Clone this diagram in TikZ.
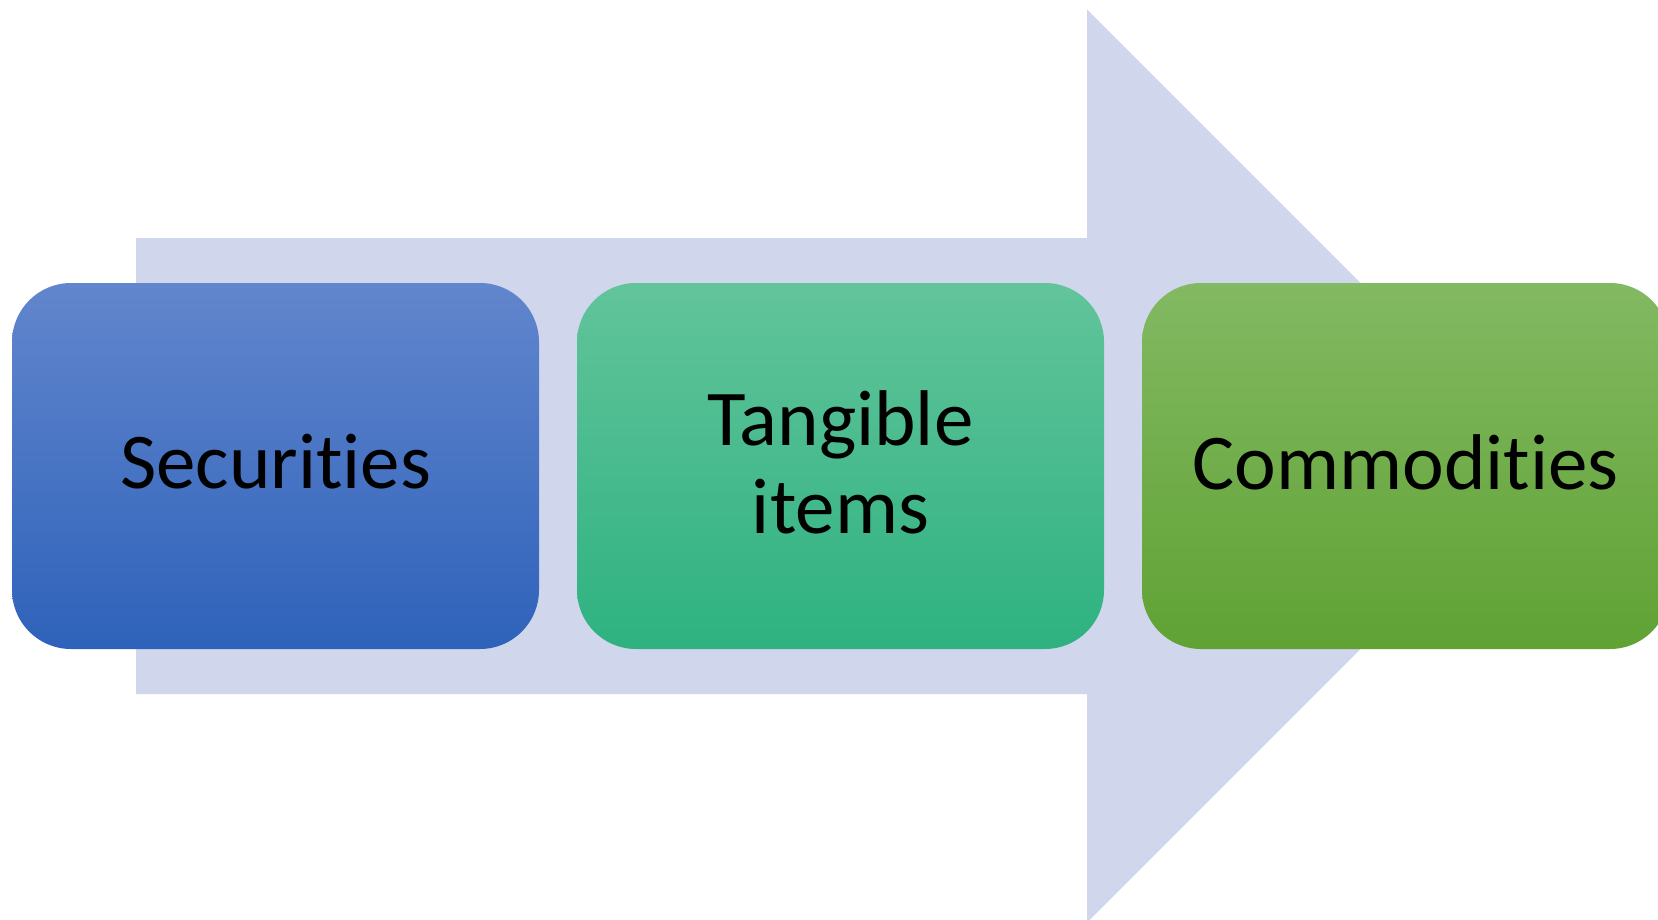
\documentclass[tikz,border=0pt]{standalone}
\usepackage{fontspec}
\setmainfont{Carlito}[Ligatures=NoCommon]
\definecolor{arrowfill}{RGB}{208,214,235}
\definecolor{b1top}{RGB}{98,134,205}
\definecolor{b1bot}{RGB}{46,98,186}
\definecolor{b2top}{RGB}{98,196,155}
\definecolor{b2bot}{RGB}{46,178,128}
\definecolor{b3top}{RGB}{130,185,98}
\definecolor{b3bot}{RGB}{96,162,52}
\tikzset{
  stagebox/.style={rectangle, rounded corners=59pt, minimum width=527pt, minimum height=366pt,
    inner sep=0pt},
  stagetext/.style={inner sep=0pt, align=center, text=black,
    font=\fontsize{79}{88}\selectfont},
}
\begin{document}
\begin{tikzpicture}[x=1pt,y=-1pt]
\clip (0,0) rectangle (1658,919);
\fill[white] (0,0) rectangle (1658,919);
% big background arrow
\fill[arrowfill] (136,238) -- (1087,238) -- (1087,9.5) -- (1543.5,466) -- (1087,922.5) -- (1087,694) -- (136,694) -- cycle;
\node[stagebox, top color=b1top, bottom color=b1bot] (sec) at (275.5,466) {};
\node[stagebox, top color=b2top, bottom color=b2bot] (tan) at (840.5,466) {};
\node[stagebox, top color=b3top, bottom color=b3bot] (com) at (1405.5,466) {};
\node[stagetext] (sect) at ([yshift=4pt]sec.center) {Securities};
\node[stagetext] (tant) at ([yshift=4pt]tan.center) {Tangible\\items};
\node[stagetext] (comt) at ([yshift=4pt]com.center) {Commodities};
\end{tikzpicture}
\end{document}
